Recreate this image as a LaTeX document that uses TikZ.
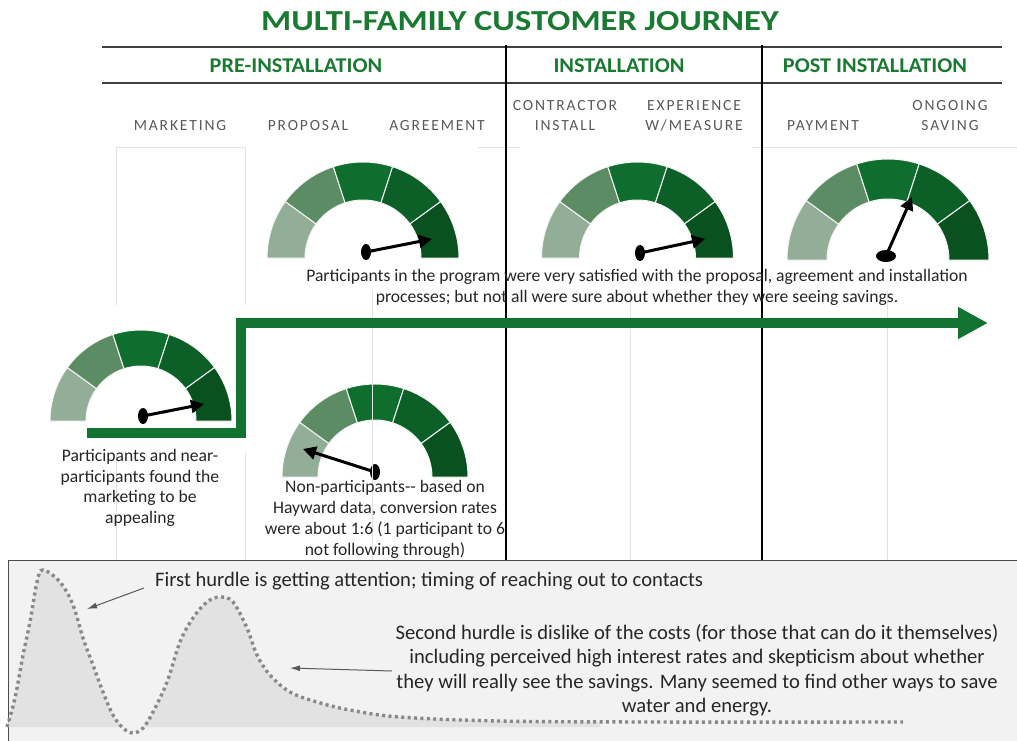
\documentclass[tikz,border=0pt]{standalone}
\usepackage{fontspec}
\setmainfont{Carlito}
\newfontfamily\labfont[LetterSpace=12]{Carlito}
\usetikzlibrary{arrows.meta}
\definecolor{gA}{HTML}{93AE97}
\definecolor{gB}{HTML}{5C8C64}
\definecolor{gC}{HTML}{0F6E2D}
\definecolor{gD}{HTML}{0C5F27}
\definecolor{gE}{HTML}{0A5120}
\definecolor{titlegreen}{HTML}{1A7A32}
\definecolor{arrowgreen}{HTML}{12722F}
\definecolor{labgray}{HTML}{595959}
\definecolor{gridgray}{HTML}{E3E3E3}
\definecolor{boxfill}{HTML}{F2F2F2}
\definecolor{curvefill}{HTML}{E2E2E2}
\definecolor{dotgray}{HTML}{888888}
\definecolor{rulegray}{HTML}{404040}
\newcommand\gaugedraw[3]{%
  \begin{scope}[shift={#1}, x=1pt, y=1pt]
    \foreach \c [count=\k from 0] in {gA,gB,gC,gD,gE}{
      \pgfmathsetmacro\aa{180-36*\k}
      \pgfmathsetmacro\ab{144-36*\k}
      \fill[\c, draw=white!92!gray, line width=1pt] (\aa:#3) arc[start angle=\aa, end angle=\ab, radius=#3]
        -- (\ab:#2) arc[start angle=\ab, end angle=\aa, radius=#2] -- cycle;
    }
  \end{scope}}
\tikzset{
  needle/.style={line width=3pt, black, -{Triangle[length=13pt,width=13pt]}},
  bodytext/.style={font=\fontsize{17.6}{21}\selectfont, align=center, text=black!85, inner sep=0pt},
  headtext/.style={font=\fontsize{21}{21}\selectfont\bfseries, text=titlegreen, inner sep=0pt},
  collabel/.style={font=\fontsize{15.5}{20}\selectfont\labfont, text=labgray, align=center, inner sep=0pt},
  gridline/.style={gridgray, line width=1pt},
  rule/.style={rulegray, line width=1.6pt},
  phaseline/.style={black, line width=1.3pt},
  greenarrow/.style={arrowgreen, line width=10pt, -{Triangle[length=30pt,width=30pt]}},
  thinarrow/.style={black!65, line width=1pt, -{Latex[length=10pt,width=6pt]}},
  hurdletext/.style={font=\fontsize{20.6}{24.5}\selectfont, align=center, text=black!85, inner sep=0pt},
}
\begin{document}
\begin{tikzpicture}[x=1pt, y=-1pt]
\useasboundingbox (0,0) rectangle (1017,740);
\fill[white] (0,0) rectangle (1017,740);

% title
\node[font=\fontsize{29}{29}\selectfont\bfseries, text=titlegreen, inner sep=0pt] (title) at (520,21) {\scalebox{1.19}[1]{MULTI-FAMILY CUSTOMER JOURNEY}};

% grid lines
\draw[gridline] (116,147) -- (245,147);
\draw[gridline] (478,147) -- (520,147);
\draw[gridline] (752,147) -- (1017,147);
\draw[gridline] (116,147) -- (116,305) (116,453) -- (116,560);
\draw[gridline] (245,147) -- (245,305) (245,453) -- (245,560);
\draw[gridline] (372,290) -- (372,560);
\draw[gridline] (630,290) -- (630,560);
\draw[gridline] (887,290) -- (887,560);

% header rules
\draw[rule] (102,47) -- (1002,47);
\draw[rule] (102,83) -- (1002,83);
\draw[phaseline] (506,45) -- (506,560);
\draw[phaseline] (762,45) -- (762,560);

\node[headtext] (pre) at (296,66) {\scalebox{1.06}[1]{PRE-INSTALLATION}};
\node[headtext] (inst) at (619,66) {\scalebox{1.06}[1]{INSTALLATION}};
\node[headtext] (post) at (875,66) {\scalebox{1.06}[1]{POST INSTALLATION}};

\node[collabel] (mkt) at (180,126) {MARKETING};
\node[collabel] (prop) at (308,126) {PROPOSAL};
\node[collabel] (agr) at (437,126) {AGREEMENT};
\node[collabel] (con) at (565,116) {CONTRACTOR\\INSTALL};
\node[collabel] (exp) at (694,116) {EXPERIENCE\\W/MEASURE};
\node[collabel] (pay) at (823,126) {PAYMENT};
\node[collabel] (ong) at (950,116) {ONGOING\\SAVING};

% gauges
\gaugedraw{(363,258)}{96}{58}
\coordinate (p1) at (366,252); \coordinate (t1) at (432,239);
\draw[needle] (p1) -- (t1);
\fill (p1) ellipse[x radius=5, y radius=8];

\gaugedraw{(637.5,258)}{96}{58}
\coordinate (p2) at (640,253); \coordinate (t2) at (705,239);
\draw[needle] (p2) -- (t2);
\fill (p2) ellipse[x radius=5, y radius=8];

\gaugedraw{(888,260)}{101}{61}
\coordinate (p3) at (886,256); \coordinate (t3) at (912,197);
\draw[needle] (p3) -- (t3);
\fill (p3) ellipse[x radius=10, y radius=6];

\gaugedraw{(141,421)}{91}{55}
\coordinate (p4) at (143,416); \coordinate (t4) at (204,404);
\draw[needle] (p4) -- (t4);
\fill (p4) ellipse[x radius=5, y radius=8];

\gaugedraw{(375,477)}{93}{57}
\coordinate (p5) at (375,472); \coordinate (t5) at (303,449);
\draw[needle] (p5) -- (t5);
\fill (p5) ellipse[x radius=5, y radius=8];
\draw[gridline] (372,380) -- (372,480);

% green journey arrow
\coordinate (g0) at (87,433);
\coordinate (g1) at (241,433);
\coordinate (g2) at (241,323);
\coordinate (g3) at (988,323);
\draw[greenarrow] (g0) -- (g1) -- (g2) -- (g3);

% texts
\node[bodytext] (sat) at (637,287) {Participants in the program were very satisfied with the proposal, agreement and installation\\processes; but not all were sure about whether they were seeing savings.};
\node[bodytext, font=\fontsize{17.6}{20.7}\selectfont] (mkttext) at (140,488) {Participants and near-\\participants found the\\marketing to be\\appealing};
\node[bodytext] (nontext) at (385,519) {Non-participants-{}- based on\\Hayward data, conversion rates\\were about 1:6 (1 participant to 6\\not following through)};

% bottom box
\filldraw[fill=boxfill, draw=black!70, line width=1pt] (8,560) rectangle (1030,750);

\fill[curvefill] plot[smooth, tension=0.6] coordinates {(7,727) (15,698) (23,655) (30,622) (37,582) (43,570) (60,582) (73,605) (83,638) (93,665) (103,692) (113,715) (123,727)} -- (123,727) -- (7,727) -- cycle;
\fill[curvefill] plot[smooth, tension=0.6] coordinates {(143,727) (153,712) (167,682) (180,642) (193,618) (207,602) (220,597) (233,602) (247,628) (257,655) (270,675) (290,692) (317,702) (350,710) (400,717) (500,721) (600,722)} -- (600,727) -- (143,727) -- cycle;
\draw[dotgray, line width=3.4pt, dash pattern=on 3pt off 3.4pt] plot[smooth, tension=0.6] coordinates {(7,727) (15,698) (23,655) (30,622) (37,582) (43,570) (60,582) (73,605) (83,638) (93,665) (103,692) (113,715) (123,728) (133,733) (143,728) (153,712) (167,682) (180,642) (193,618) (207,602) (220,597) (233,602) (247,628) (257,655) (270,675) (290,692) (317,702) (350,710) (400,717) (500,721) (650,722) (903,722)};

\node[hurdletext, anchor=west] (h1) at (155,581) {First hurdle is getting attention; timing of reaching out to contacts};
\node[hurdletext] (h2) at (697,670) {Second hurdle is dislike of the costs (for those that can do it themselves)\\including perceived high interest rates and skepticism about whether\\they will really see the savings. Many seemed to find other ways to save\\water and energy.};
\coordinate (a1s) at (144,588); \coordinate (a1e) at (87,609);
\draw[thinarrow] (a1s) -- (a1e);
\coordinate (a2s) at (392,671); \coordinate (a2e) at (290,668);
\draw[thinarrow] (a2s) -- (a2e);
\end{tikzpicture}
\end{document}
